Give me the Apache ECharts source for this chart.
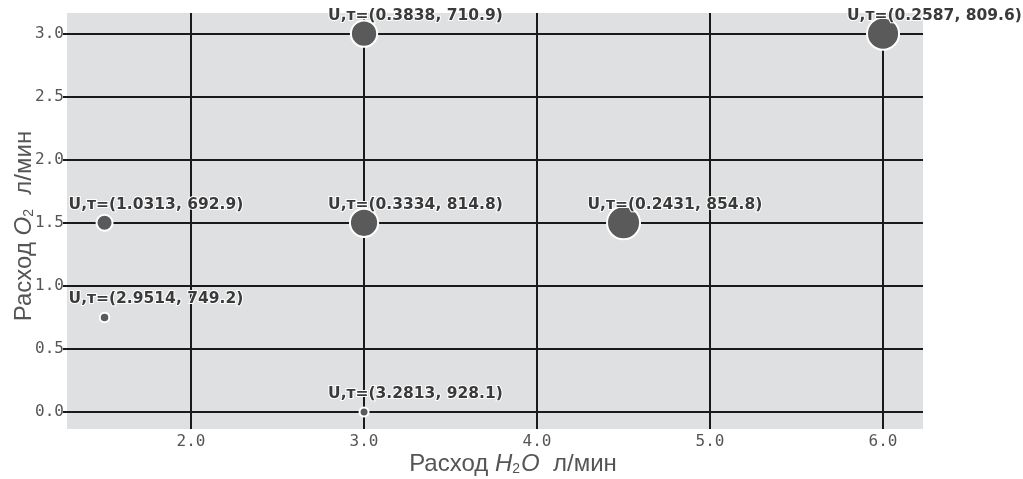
<!DOCTYPE html>
<html><head><meta charset="utf-8">
<script src="https://cdn.jsdelivr.net/npm/echarts@6/dist/echarts.min.js"></script>
<style>html,body{margin:0;padding:0;background:#fff}#c{width:1023px;height:479px}</style>
</head><body><div id="c"></div>
<script>
// Data
const h2oFlow = [1.5, 1.5, 3, 3, 3, 4.5, 6];
const o2Flow = [1.5, 0.75, 3, 1.5, 0, 1.5, 3];
const uVals = [1.0313, 2.9514, 0.3838, 0.3334, 3.2813, 0.2431, 0.2587];
const tauVals = [692.9, 749.2, 710.9, 814.8, 928.1, 854.8, 809.6];
const xTicks = [2.0, 3.0, 4.0, 5.0, 6.0];
const yTicks = [0.0, 0.5, 1.0, 1.5, 2.0, 2.5, 3.0];

const points = h2oFlow.map((x, i) => ({
  value: [x, o2Flow[i], uVals[i], tauVals[i]]
}));

const chart = echarts.init(document.getElementById('c'), null, {renderer: 'canvas'});
const tickFont = {fontFamily: 'DejaVu Sans Mono', fontSize: 16, color: '#555'};
const nameRich = {
  n: {fontFamily: 'Liberation Sans', fontSize: 24, color: '#555'},
  i: {fontFamily: 'Liberation Sans', fontSize: 24, color: '#555', fontStyle: 'italic'},
  s: {fontFamily: 'Liberation Sans', fontSize: 14, color: '#555', verticalAlign: 'bottom', padding: [0, 1, 0, 0]}
};
chart.setOption({
  animation: false,
  grid: {left: 67, right: 100, top: 13, bottom: 50, show: true, backgroundColor: '#dfe0e2', borderWidth: 0,
         containLabel: false, outerBoundsMode: 'none'},
  xAxis: {
    type: 'value', min: 1.283, max: 6.231,
    axisLine: {show: false},
    axisTick: {show: true, length: 4, lineStyle: {color: '#1a1a1a', width: 2}, customValues: xTicks},
    axisLabel: Object.assign({margin: 5, customValues: xTicks, formatter: v => v.toFixed(1)}, tickFont),
    splitLine: {show: true, lineStyle: {color: '#1a1a1a', width: 2}},
    name: '{n|Расход }{i|H}{s|2}{i|O}{n|  л/мин}',
    nameLocation: 'middle', nameGap: 23, nameMoveOverlap: false,
    nameTextStyle: {rich: nameRich, padding: [0, 0, 0, 36]}
  },
  yAxis: {
    type: 'value', min: -0.135, max: 3.164,
    axisLine: {show: false},
    axisTick: {show: true, length: 4, lineStyle: {color: '#1a1a1a', width: 2}, customValues: yTicks},
    axisLabel: Object.assign({margin: 3, customValues: yTicks, formatter: v => v.toFixed(1)}, tickFont),
    splitLine: {show: true, lineStyle: {color: '#1a1a1a', width: 2}},
    name: '{n|Расход }{i|O}{s|2}{n|  л/мин}',
    nameLocation: 'middle', nameGap: 31, nameMoveOverlap: false,
    nameTextStyle: {rich: nameRich, padding: [0, 10, 0, 0]}
  },
  series: [{
    type: 'scatter',
    data: points,
    symbolSize: v => 16.3 / Math.sqrt(v[2]),
    itemStyle: {color: '#5a5a5a', borderColor: '#ffffff', borderWidth: 2, opacity: 1},
    label: {
      show: true, position: 'inside', align: 'left', verticalAlign: 'middle', offset: [-36, -18],
      formatter: p => 'U,т=(' + p.value[2].toFixed(4) + ', ' + p.value[3].toFixed(1) + ')',
      fontFamily: 'DejaVu Sans', fontWeight: 'bold', fontSize: 15.5, color: '#3a3a3a',
      textBorderColor: '#ffffff', textBorderWidth: 2
    },
    emphasis: {disabled: true}
  }]
});
</script></body></html>
